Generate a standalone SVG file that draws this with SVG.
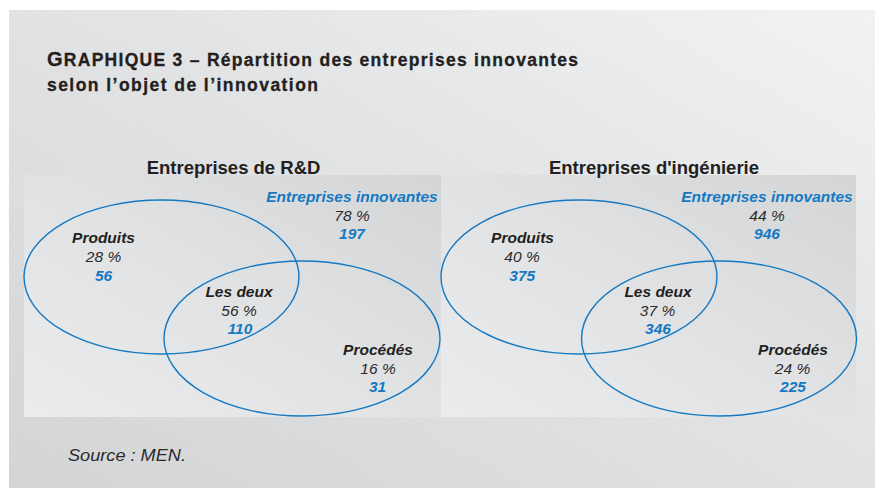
<svg xmlns="http://www.w3.org/2000/svg" width="880" height="488" viewBox="0 0 880 488">
  <defs>
    <linearGradient id="bgGrad" x1="0" y1="1" x2="1" y2="0">
      <stop offset="0" stop-color="#d2d3d5"/>
      <stop offset="0.6" stop-color="#e3e4e6"/>
      <stop offset="1" stop-color="#f1f2f4"/>
    </linearGradient>
    <linearGradient id="panelGrad" x1="0" y1="1" x2="1" y2="0">
      <stop offset="0" stop-color="#ebecee"/>
      <stop offset="0.5" stop-color="#e1e2e4"/>
      <stop offset="1" stop-color="#d4d5d7"/>
    </linearGradient>
    <pattern id="hatch" width="4" height="4" patternUnits="userSpaceOnUse" patternTransform="rotate(45)">
      <line x1="0" y1="0" x2="0" y2="4" stroke="#ffffff" stroke-width="1"/>
    </pattern>
  </defs>
  <style>
    .title { font-family: "Liberation Sans", Arial, sans-serif; font-weight: bold; font-size: 17.5px; fill: #231f20; stroke: #231f20; stroke-width: 0.3; }
    .sub { font-family: "Liberation Sans", Arial, sans-serif; font-weight: bold; font-size: 18.5px; fill: #231f20; text-anchor: middle; }
    .lbl { font-family: "Liberation Sans", Arial, sans-serif; font-weight: bold; font-style: italic; font-size: 15.5px; fill: #231f20; text-anchor: middle; }
    .pct { font-family: "Liberation Sans", Arial, sans-serif; font-style: italic; font-size: 15.5px; fill: #2b2b2b; text-anchor: middle; }
    .num { font-family: "Liberation Sans", Arial, sans-serif; font-weight: bold; font-style: italic; font-size: 15.5px; fill: #1479c2; text-anchor: middle; }
    .blue { fill: #1479c2; }
    .set { fill: none; stroke: #1479c2; stroke-width: 1.4; }
    .src { font-family: "Liberation Sans", Arial, sans-serif; font-style: italic; font-size: 16.5px; fill: #2b2b2b; }
  </style>

  <!-- page background -->
  <rect x="9" y="10" width="866" height="478" fill="url(#bgGrad)"/>
  <rect x="9" y="10" width="866" height="478" fill="url(#hatch)" opacity="0.22"/>

  <!-- heading -->
  <g id="heading">
    <text class="title" x="47" y="66" textLength="531" lengthAdjust="spacing"><tspan font-size="20">G</tspan>RAPHIQUE 3 – Répartition des entreprises innovantes</text>
    <text class="title" x="47" y="90.5" textLength="271" lengthAdjust="spacing">selon l’objet de l’innovation</text>
  </g>

  <!-- inner panels -->
  <rect x="24" y="175" width="417" height="242" fill="url(#panelGrad)"/>
  <rect x="441" y="175" width="415" height="242" fill="url(#panelGrad)"/>

  <!-- R&D firms -->
  <g id="rd">
    <text class="sub" x="233.5" y="174">Entreprises de R&amp;D</text>
    <g id="rd-sets">
      <ellipse class="set" cx="161.5" cy="277" rx="137.5" ry="77"/>
      <ellipse class="set" cx="302" cy="338.5" rx="138" ry="77.5"/>
    </g>
    <g id="rd-innov">
      <text class="lbl blue" x="352" y="202">Entreprises innovantes</text>
      <text class="pct" x="352" y="220.5">78 %</text>
      <text class="num" x="352" y="239">197</text>
    </g>
    <g id="rd-produits">
      <text class="lbl" x="103.5" y="243">Produits</text>
      <text class="pct" x="103.5" y="261.7">28 %</text>
      <text class="num" x="103.5" y="280.5">56</text>
    </g>
    <g id="rd-deux">
      <text class="lbl" x="239" y="297">Les deux</text>
      <text class="pct" x="239" y="315.7">56 %</text>
      <text class="num" x="240" y="334.3">110</text>
    </g>
    <g id="rd-procedes">
      <text class="lbl" x="378" y="355">Procédés</text>
      <text class="pct" x="378" y="373.5">16 %</text>
      <text class="num" x="377.5" y="392.3">31</text>
    </g>
  </g>

  <!-- engineering firms -->
  <g id="ing">
    <text class="sub" x="654" y="174">Entreprises d'ingénierie</text>
    <g id="ing-sets">
      <ellipse class="set" cx="579" cy="277" rx="138" ry="77"/>
      <ellipse class="set" cx="719" cy="338.5" rx="137.5" ry="77.5"/>
    </g>
    <g id="ing-innov">
      <text class="lbl blue" x="767" y="202">Entreprises innovantes</text>
      <text class="pct" x="767" y="220.5">44 %</text>
      <text class="num" x="767" y="239">946</text>
    </g>
    <g id="ing-produits">
      <text class="lbl" x="522.5" y="243">Produits</text>
      <text class="pct" x="522" y="261.7">40 %</text>
      <text class="num" x="522.3" y="280.5">375</text>
    </g>
    <g id="ing-deux">
      <text class="lbl" x="658" y="297">Les deux</text>
      <text class="pct" x="657.5" y="315.7">37 %</text>
      <text class="num" x="658" y="334.3">346</text>
    </g>
    <g id="ing-procedes">
      <text class="lbl" x="793" y="355">Procédés</text>
      <text class="pct" x="792.5" y="373.5">24 %</text>
      <text class="num" x="793" y="392.3">225</text>
    </g>
  </g>

  <!-- source line -->
  <text class="src" x="68" y="461" textLength="118" lengthAdjust="spacingAndGlyphs">Source : MEN.</text>
</svg>
